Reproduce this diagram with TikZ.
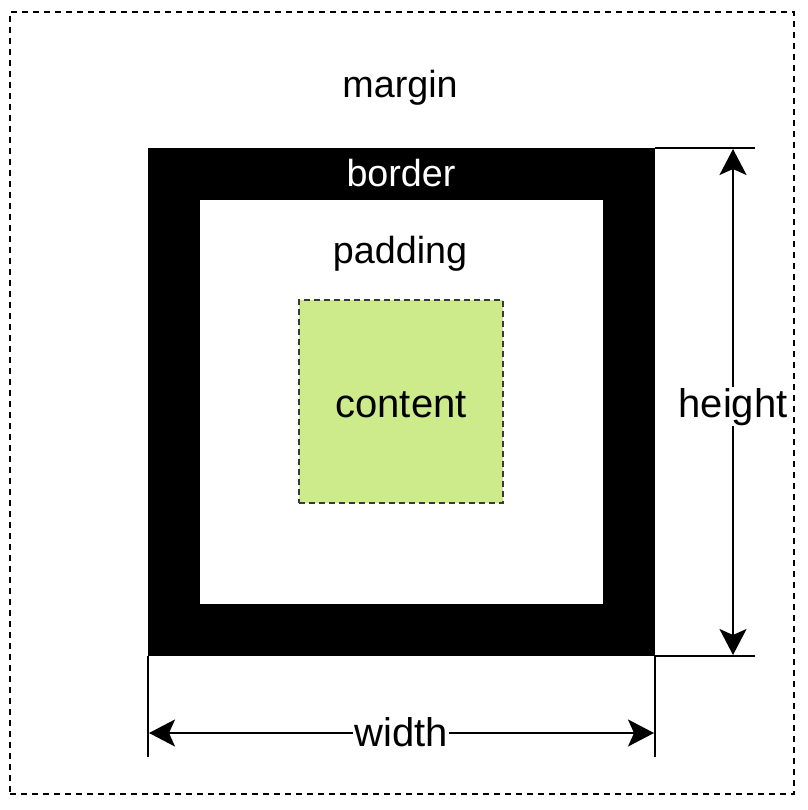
\documentclass[tikz,border=0pt]{standalone}
\usepackage{fontspec}
\setmainfont{Liberation Sans}
\usetikzlibrary{arrows.meta}
\definecolor{contentgreen}{HTML}{CDEB8B}
\definecolor{contentstroke}{HTML}{36393D}
\begin{document}
\begin{tikzpicture}[x=1pt,y=-1pt,
  box/.style={inner sep=0pt,outer sep=0pt,anchor=center},
  lbl/.style={font=\fontsize{37.7}{42}\selectfont,inner sep=0pt,anchor=base},
  biglbl/.style={font=\fontsize{40}{44}\selectfont,inner sep=1pt,anchor=base},
  tip/.tip={Stealth[length=26pt,width=27pt,inset=6pt]},
  dimline/.style={line width=2pt,tip-tip},
  extline/.style={line width=2pt}]
\useasboundingbox (0,0) rectangle (807,810);
% margin box
\node[box,draw,line width=2pt,dash pattern=on 6pt off 5pt,minimum width=784pt,minimum height=782pt] (marginbox) at (402,403) {};
% border and padding
\node[box,fill=black,minimum width=507pt,minimum height=508pt] (borderbox) at (401.5,402) {};
\node[box,fill=white,minimum width=403pt,minimum height=404pt] (paddingbox) at (401.5,402) {};
% content
\node[box,fill=contentgreen,draw=contentstroke,line width=2pt,dash pattern=on 6pt off 4pt,minimum width=204pt,minimum height=203pt] (contentbox) at (401,401.5) {};
% labels
\node[lbl] (margintext) at (400,98) {margin};
\node[lbl,text=white] (bordertext) at (401,187) {border};
\node[lbl] (paddingtext) at (400,263) {padding};
\node[font=\fontsize{40}{44}\selectfont,inner sep=0pt,anchor=base] (contenttext) at (401,417) {content};
% extension lines
\coordinate (htop) at (755,148);
\coordinate (hbot) at (755,656);
\coordinate (wl) at (148,757);
\coordinate (wr) at (655,757);
\draw[extline] (borderbox.north east) -- (htop);
\draw[extline] (borderbox.south east) -- (hbot);
\draw[extline] (borderbox.south west) -- (wl);
\draw[extline] (borderbox.south east) -- (wr);
% dimension arrows
\coordinate (ha) at (733,149);
\coordinate (hb) at (733,655);
\coordinate (wa) at (149,733);
\coordinate (wb) at (654,733);
\draw[dimline] (ha) -- (hb);
\draw[dimline] (wa) -- (wb);
\node[biglbl,fill=white] (heighttext) at (733,417) {height};
\node[biglbl,fill=white] (widthtext) at (401,746) {width};
\end{tikzpicture}
\end{document}
